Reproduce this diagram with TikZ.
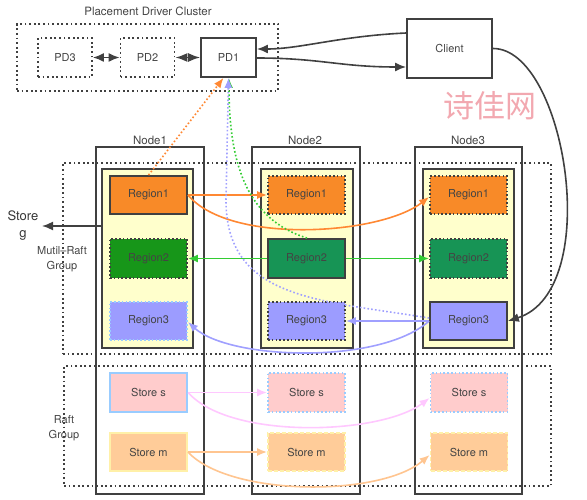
\documentclass[tikz,border=0pt]{standalone}
\usepackage{fontspec}
\setmainfont{TeX Gyre Heros}
\newfontfamily\cjkfont{Noto Sans CJK SC}
\usetikzlibrary{arrows.meta}
\definecolor{txt}{HTML}{444444}
\definecolor{edge}{HTML}{404040}
\definecolor{regA}{HTML}{F88A28}
\definecolor{regBa}{HTML}{179619}
\definecolor{regBb}{HTML}{179455}
\definecolor{regC}{HTML}{9C9CFF}
\definecolor{ylw}{HTML}{FFFFCC}
\definecolor{stS}{HTML}{FFCCCC}
\definecolor{stSb}{HTML}{99CCFF}
\definecolor{stM}{HTML}{FFCC99}
\definecolor{stMb}{HTML}{FFF0A8}
\definecolor{arA}{HTML}{FF8833}
\definecolor{arB}{HTML}{33CC33}
\definecolor{arC}{HTML}{A0A0FF}
\definecolor{arS}{HTML}{FFC8FF}
\definecolor{arM}{HTML}{FFC590}
\definecolor{wm}{HTML}{F2A8B0}
\tikzset{
  lbl/.style={text=txt, font=\fontsize{11.5}{13}\selectfont, inner sep=0pt},
  dotbox/.style={draw=edge, line width=1.8pt, dash pattern=on 1.8pt off 2.8pt},
  pdbox/.style={draw=edge, line width=1.8pt, dash pattern=on 1.8pt off 2.8pt, text=txt, font=\fontsize{11}{13}\selectfont, minimum width=54pt, minimum height=39pt, inner sep=0pt},
  solidbox/.style={draw=edge, line width=1.8pt, text=txt, font=\fontsize{11}{13}\selectfont, inner sep=0pt},
  nodebox/.style={draw=edge, line width=1.8pt, minimum width=108pt, minimum height=347pt, inner sep=0pt},
  ybox/.style={draw=edge, line width=1.8pt, fill=ylw, minimum width=91pt, minimum height=179pt, inner sep=0pt},
  reg/.style={text=txt, font=\fontsize{11}{13}\selectfont, minimum width=77pt, minimum height=38pt, inner sep=0pt},
  solidb/.style={draw=edge, line width=1.8pt},
  dottedb/.style={draw=edge, line width=1.8pt, dash pattern=on 1.6pt off 2.2pt},
  arr/.style={line width=1.6pt, -{Latex[length=10pt,width=8pt]}},
  darr/.style={line width=1.6pt, dash pattern=on 1.6pt off 2.2pt, -{Latex[length=10pt,width=8pt]}},
}
\begin{document}
\begin{tikzpicture}[x=1pt,y=-1pt]
\useasboundingbox (0,0) rectangle (587,500);
% title
\node[lbl] (title) at (148,11) {Placement Driver Cluster};
\node[dotbox, minimum width=261pt, minimum height=67pt, inner sep=0pt] (cluster) at (147.5,57.5) {};
\node[pdbox] (pd3) at (65,57.5) {PD3};
\node[pdbox] (pd2) at (147.5,57.5) {PD2};
\node[solidbox, minimum width=55pt, minimum height=39pt] (pd1) at (228.5,57.5) {PD1};
\node[solidbox, minimum width=85pt, minimum height=59pt] (client) at (449.5,48.5) {Client};
\node[text=wm, font=\cjkfont\fontsize{31}{33}\selectfont, inner sep=0pt] (wmark) at (490,106) {诗佳网};

\draw[edge, line width=1.6pt, {Latex[length=11pt,width=9pt]}-{Latex[length=11pt,width=9pt]}] (pd3.east) -- (pd2.west);
\draw[edge, line width=1.6pt, {Latex[length=12pt,width=9pt]}-{Latex[length=12pt,width=9pt]}] (pd2.east) -- (pd1.west);
\draw[edge, line width=1.6pt, -{Latex[length=11pt,width=9pt]}] ([yshift=15.5pt]client.west) .. controls (340,36) and (300,49) .. ([yshift=8.5pt]pd1.east);
\draw[edge, line width=1.6pt, -{Latex[length=11pt,width=9pt]}] ([yshift=-0.5pt]pd1.east) .. controls (320,58) and (340,67) .. ([yshift=-18.5pt]client.west);

% node boxes
\node[nodebox] (n1) at (150,320.5) {};
\node[nodebox] (n2) at (306,320.5) {};
\node[nodebox, minimum width=107pt] (n3) at (468.5,320.5) {};
\node[lbl] (n1t) at (150,140) {Node1};
\node[lbl] (n2t) at (305,140) {Node2};
\node[lbl] (n3t) at (468,140) {Node3};

% group boxes
\node[dotbox, minimum width=488pt, minimum height=191pt, inner sep=0pt] (multi) at (307,258.5) {};
\node[dotbox, minimum width=487pt, minimum height=120pt, inner sep=0pt] (raft) at (307.5,426) {};

% yellow boxes
\node[ybox] (y1) at (147.5,258.5) {};
\node[ybox, minimum width=92pt] (y2) at (307,258.5) {};
\node[ybox] (y3) at (468.5,258.5) {};

% regions
\node[reg, fill=regA, solidb] (r11) at (148.5,195) {Region1};
\node[reg, fill=regBa, dottedb, minimum height=39pt] (r12) at (148.5,258.5) {Region2};
\node[reg, fill=regC, draw=stSb, line width=1.8pt, dash pattern=on 1.6pt off 2.2pt] (r13) at (148.5,321) {Region3};
\node[reg, fill=regA, dottedb] (r21) at (306.5,195) {Region1};
\node[reg, fill=regBb, solidb, minimum height=39pt] (r22) at (306.5,258.5) {Region2};
\node[reg, fill=regC, dottedb] (r23) at (306.5,321) {Region3};
\node[reg, fill=regA, dottedb] (r31) at (468.5,195) {Region1};
\node[reg, fill=regBb, dottedb, minimum height=39pt] (r32) at (468.5,258.5) {Region2};
\node[reg, fill=regC, solidb] (r33) at (468.5,321) {Region3};

% stores
\node[reg, fill=stS, draw=stSb, line width=2.2pt, minimum height=39pt] (s1) at (148.5,392.5) {Store s};
\node[reg, fill=stS, draw=stSb, line width=1.8pt, dash pattern=on 1.6pt off 2.2pt, minimum height=39pt] (s2) at (306.5,392.5) {Store s};
\node[reg, fill=stS, draw=stSb, line width=1.8pt, dash pattern=on 1.6pt off 2.2pt, minimum height=39pt] (s3) at (469,392.5) {Store s};
\node[reg, fill=stM, draw=stMb, line width=1.8pt] (m1) at (148.5,452) {Store m};
\node[reg, fill=stM, draw=stMb, line width=1.8pt, dash pattern=on 4pt off 2pt] (m2) at (306.5,452) {Store m};
\node[reg, fill=stM, draw=stMb, line width=1.8pt, dash pattern=on 4pt off 2pt] (m3) at (469,452) {Store m};

% labels
\node[text=txt!80!black, font=\fontsize{13}{17}\selectfont, align=center, inner sep=0pt] (storeg) at (23,226) {Store\\g};
\coordinate (sgend) at (42,226);
\node[lbl, align=center, font=\fontsize{11}{14.5}\selectfont] (mrg) at (62,259) {Mutil–Raft\\Group};
\node[lbl, align=center, font=\fontsize{11}{14.5}\selectfont] (rg) at (64,428) {Raft\\Group};

\draw[edge, line width=1.6pt, -{Latex[length=11pt,width=9pt]}] ([yshift=32.5pt]y1.west) -- (sgend);

% region replication arrows
\draw[arA, arr] (r11.east) -- (r21.west);
\draw[arA, arr] (r11.east) .. controls (230,245) and (380,235) .. ([yshift=-2pt]r31.west);
\draw[arB, arr] (r22.west) -- (r12.east);
\draw[arB, arr] (r22.east) -- (r32.west);
\draw[arC, arr] (r33.west) -- (r23.east);
\draw[arC, arr] (r33.west) .. controls (380,365) and (230,360) .. ([yshift=-1pt]r13.east);
\draw[arS, arr] (s1.east) -- (s2.west);
\draw[arS, arr] (s1.east) .. controls (230,440) and (380,435) .. ([yshift=-5.5pt]s3.west);
\draw[arM, arr] (m1.east) -- (m2.west);
\draw[arM, arr] (m1.east) .. controls (230,497) and (380,497) .. ([yshift=-3pt]m3.west);

% to PD1
\draw[arA, darr] (r11.north) -- ([xshift=-5pt]pd1.south);
\draw[arB, darr] ([xshift=0.5pt]r22.north) .. controls (250,220) and (229,170) .. ([xshift=0.5pt]pd1.south);
\draw[arC, darr] ([yshift=3pt]r33.west) .. controls (320,300) and (226,300) .. (226,200) -- ([xshift=0pt]pd1.south);

% client to region3
\draw[edge, line width=1.6pt, -{Latex[length=11pt,width=9pt]}] (client.east) .. controls (565,48) and (605,290) .. (r33.east);
\end{tikzpicture}
\end{document}
